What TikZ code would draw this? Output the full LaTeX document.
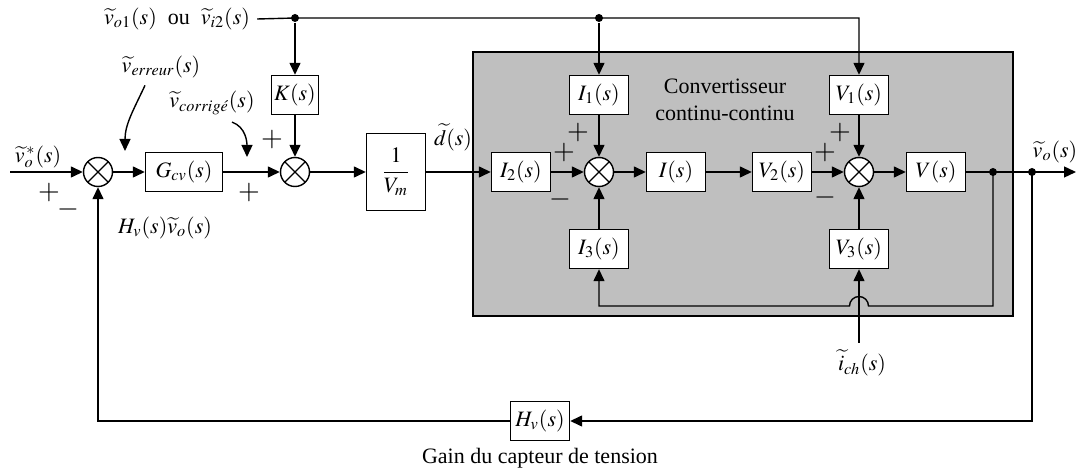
\documentclass[tikz,border=0pt]{standalone}
\usepackage{amsmath}
\usepackage{mathptmx}
\usepackage{fontspec}
\setmainfont{Liberation Serif}
\usetikzlibrary{arrows.meta, positioning}
\tikzset{block/.style={draw,fill=white,minimum width=29.5pt,minimum height=19.5pt,inner sep=1pt},
         sumnode/.style={draw,circle,fill=white,minimum size=14.5pt,inner sep=0pt,
           path picture={\draw (path picture bounding box.north west)--(path picture bounding box.south east)
                               (path picture bounding box.north east)--(path picture bounding box.south west);}},
         junction/.style={circle,fill,inner sep=0pt,minimum size=4pt},
         sig/.style={-{Triangle[length=6pt,width=5.5pt]}},
         sgn/.style={inner sep=0pt,font=\fontsize{14}{14}\selectfont}}

\begin{document}
\begin{tikzpicture}[x=0.5pt,y=-0.5pt,line width=0.7pt,font=\fontsize{11}{13.5}\selectfont]
        \useasboundingbox (0,0) rectangle (1078,470);
        % convertisseur
        \draw[fill=black!25] (473,52) rectangle (1013,316);
        \node[align=center](conv)at(725,100){Convertisseur\\continu-continu};

        \node[sumnode](s1)at(98,172){};
        \node[block, minimum width=38.5pt](Gcv)at(184,172){$G_{cv}(s)$};
        \node[sumnode](s2)at(295,172){};
        \node[block, minimum width=23.5pt](K)at(295,95){$K(s)$};
        \node[block, minimum height=38.5pt](Vm)at(396,172){$\dfrac{1}{V_m}$};
        \node[block](I2)at(521,172){$I_2(s)$};
        \node[sumnode](s3)at(599,172){};
        \node[block](I1)at(599,95){$I_1(s)$};
        \node[block](I3)at(599,249){$I_3(s)$};
        \node[block](I)at(676,172){$I(s)$};
        \node[block](V2)at(782,172){$V_2(s)$};
        \node[sumnode](s4)at(859,172){};
        \node[block](V1)at(859,95){$V_1(s)$};
        \node[block](V3)at(859,249){$V_3(s)$};
        \node[block](V)at(936,172){$V(s)$};
        \node[block](Hv)at(540,421){$H_v(s)$};

        \node[junction](dk)at(295,18){};
        \node[junction](di)at(599,18){};
        \node[junction](d1)at(993,172){};
        \node[junction](d2)at(1032,172){};
        \coordinate(in)at(10,172);
        \coordinate(out)at(1076,172);
        \coordinate(jr)at(868.5,306);
        \coordinate(errtip)at(125,151);
        \coordinate(cortip)at(247,157);

        % textes
        \node(vref)at(38,157){$\widetilde{v}_o^{\,*}(s)$};
        \node(top)at(177,19){$\widetilde{v}_{o1}(s)$\ \ ou\ \ $\widetilde{v}_{i2}(s)$};
        \node(err)at(161,67){$\widetilde{v}_{erreur}(s)$};
        \node(cor)at(212,103){$\widetilde{v}_{corrig\acute{e}}(s)$};
        \node(fb)at(165,228){$H_v(s)\widetilde{v}_o(s)$};
        \node(d)at(453,137){$\widetilde{d}(s)$};
        \node(vo)at(1055,152){$\widetilde{v}_o(s)$};
        \node(ich)at(862,363){$\widetilde{i}_{ch}(s)$};
        \node(gain)at(540,458){Gain du capteur de tension};

        \node[sgn]at(49,193){$+$};
        \node[sgn]at(68,210){$-$};
        \node[sgn]at(272,140){$+$};
        \node[sgn]at(249,193){$+$};
        \node[sgn]at(578,133){$+$};
        \node[sgn]at(564,153){$+$};
        \node[sgn]at(560,200){$-$};
        \node[sgn]at(840,133){$+$};
        \node[sgn]at(825,153){$+$};
        \node[sgn]at(825,198){$-$};

        % chaine directe
        \draw[sig](in)--(s1);
        \draw[sig](s1)--(Gcv);
        \draw[sig](Gcv)--(s2);
        \draw[sig](s2)--(Vm);
        \draw[sig](Vm)--(I2);
        \draw[sig](I2)--(s3);
        \draw[sig](s3)--(I);
        \draw[sig](I)--(V2);
        \draw[sig](V2)--(s4);
        \draw[sig](s4)--(V);
        \draw(V)--(d1.center)--(d2.center);
        \draw[sig](d2.center)--(out);

        % branches verticales
        \draw[sig](top.east)--(dk.center)--(di.center)-|(V1.north);
        \draw[sig](dk)--(K);
        \draw[sig](di)--(I1);
        \draw[sig](K)--(s2);
        \draw[sig](I1)--(s3);
        \draw[sig](I3)--(s3);
        \draw[sig](V1)--(s4);
        \draw[sig](V3)--(s4);
        \draw[sig](d1.center)|-(jr)arc(0:-180:9.5)-|(I3.south);
        \draw[sig](V3.south|-ich.north)--(V3.south);

        % retour
        \draw[sig](d2.center)|-(Hv.east);
        \draw[sig](Hv.west)-|(s1.south);

        \draw[sig]([xshift=-8pt]err.south)to[out=-115,in=90](errtip);
        \draw[sig]([xshift=10pt]cor.south)to[out=-20,in=90](cortip);
    \end{tikzpicture}
\end{document}
